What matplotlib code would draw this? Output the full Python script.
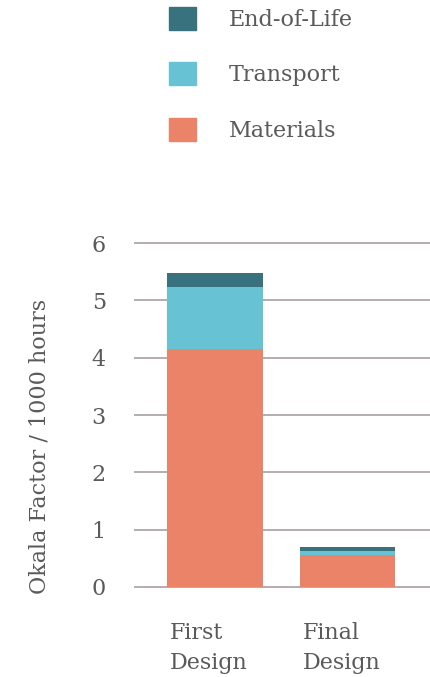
import numpy as np
import matplotlib.pyplot as plt
from matplotlib.patches import Patch

# Datos del grafico
disenos = ['First\nDesign', 'Final\nDesign']
materiales = [4.15, 0.56]
transporte = [1.09, 0.07]
fin_de_vida = [0.24, 0.07]

col_mat = '#ea8368'
col_tra = '#67c2d4'
col_eol = '#37727e'
col_txt = '#5a5a5a'

plt.rcParams['font.family'] = ['DejaVu Serif']

fig = plt.figure(figsize=(4.3, 6.77), dpi=100)
ax = fig.add_axes([0.314, 0.133, 0.686, 0.508])

x = np.arange(len(disenos))
ancho = 0.72
base2 = np.array(materiales) + np.array(transporte)
ax.bar(x, materiales, ancho, color=col_mat, zorder=3)
ax.bar(x, transporte, ancho, bottom=materiales, color=col_tra, zorder=3)
ax.bar(x, fin_de_vida, ancho, bottom=base2, color=col_eol, zorder=3)

ax.set_xlim(-0.6, 1.62)
ax.set_ylim(0, 6)
ax.set_yticks(range(0, 7))
ax.yaxis.grid(True, color='#b5adad', linewidth=1.4)
for g in ax.yaxis.get_gridlines():
    g.set_clip_on(False)
ax.tick_params(axis='both', length=0, labelsize=16, colors=col_txt)
ax.tick_params(axis='y', pad=21)
ax.tick_params(axis='x', pad=25)
for s in ax.spines.values():
    s.set_visible(False)

ax.set_xticks(x - ancho / 2 + 0.02)
ax.set_xticklabels(disenos, ha='left', linespacing=1.5)
ax.set_ylabel('Okala Factor / 1000 hours', fontsize=16, color=col_txt)
ax.yaxis.set_label_coords(-0.285, 0.41)

# Leyenda arriba
handles = [Patch(color=col_eol), Patch(color=col_tra), Patch(color=col_mat)]
labels = ['End-of-Life', 'Transport', 'Materials']
fig.legend(handles, labels, loc='upper left', bbox_to_anchor=(169 / 430, 1 - 7 / 677),
           bbox_transform=fig.transFigure, frameon=False, fontsize=16, labelcolor=col_txt,
           handlelength=1.2, handleheight=1.2, labelspacing=1.42, handletextpad=1.5,
           borderpad=0, borderaxespad=0)

plt.savefig('out.png', dpi=100)
